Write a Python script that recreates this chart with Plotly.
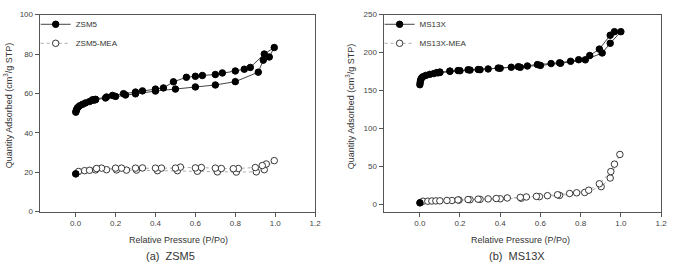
import plotly.graph_objects as go

# ---------------- data ----------------
# (a) ZSM5 - adsorption then desorption branch
zsm5_p = [0.001, 0.003, 0.006, 0.01, 0.02, 0.035, 0.05, 0.07, 0.09, 0.1, 0.15, 0.2, 0.25, 0.3, 0.4, 0.5,
          0.6, 0.7, 0.8, 0.915, 0.94, 0.97, 0.995,
          0.945, 0.875, 0.845, 0.8, 0.735, 0.7, 0.635, 0.6, 0.555, 0.49, 0.44, 0.4, 0.335, 0.3, 0.24,
          0.185, 0.155, 0.1, 0.085]
zsm5_q = [50.5, 51.2, 52.0, 52.8, 53.7, 54.5, 55.2, 55.9, 56.6, 56.8, 57.7, 58.5, 59.2, 59.8, 61.2, 62.2,
          63.3, 64.3, 66.0, 70.8, 76.9, 78.5, 83.3,
          80.0, 73.2, 72.3, 71.4, 70.4, 69.6, 69.1, 68.7, 68.2, 65.9, 62.8, 62.2, 61.3, 60.7, 59.9,
          59.0, 58.2, 57.0, 56.8]

zsm5_mea_p = [0.001, 0.015, 0.045, 0.07, 0.1, 0.155, 0.205, 0.255, 0.305, 0.41, 0.51, 0.61, 0.71, 0.805,
              0.905, 0.945, 0.995,
              0.955, 0.935, 0.9, 0.815, 0.79, 0.73, 0.7, 0.63, 0.6, 0.525, 0.5, 0.43, 0.4, 0.335, 0.3,
              0.23, 0.2, 0.13, 0.105]
zsm5_mea_q = [19.2, 20.4, 20.8, 21.0, 21.2, 21.3, 21.2, 21.1, 21.1, 20.8, 20.8, 20.5, 20.2, 20.1,
              20.2, 21.3, 25.9,
              24.2, 23.4, 22.4, 21.9, 21.8, 21.9, 22.1, 22.4, 22.2, 22.6, 22.1, 22.1, 22.1, 22.2, 22.1,
              22.1, 22.1, 22.1, 21.9]

# (b) MS13X
ms13x_p = [0.0005, 0.002, 0.004, 0.008, 0.015, 0.03, 0.05, 0.07, 0.09, 0.1, 0.15, 0.2, 0.25, 0.3, 0.4,
           0.5, 0.6, 0.7, 0.823, 0.907, 0.947, 1.0,
           0.968, 0.947, 0.893, 0.845, 0.79, 0.75, 0.695, 0.653, 0.585, 0.535, 0.49, 0.455, 0.39, 0.34,
           0.29, 0.24, 0.19, 0.15, 0.1, 0.085]
ms13x_q = [157.5, 160.5, 163.5, 166.0, 168.0, 169.8, 171.2, 172.2, 173.2, 173.6, 175.2, 176.0, 176.8,
           177.4, 179.2, 180.5, 183.0, 185.8, 190.3, 199.4, 212.2, 227.5,
           227.5, 222.8, 204.5, 196.0, 190.5, 188.4, 186.4, 185.4, 184.1, 182.2, 181.3, 180.6, 179.5,
           178.3, 177.6, 177.2, 176.2, 175.5, 174.2, 173.6]

ms13x_mea_p = [0.001, 0.016, 0.04, 0.06, 0.08, 0.1, 0.16, 0.195, 0.25, 0.3, 0.4, 0.505, 0.595, 0.695,
               0.82, 0.902, 0.947, 0.995,
               0.968, 0.95, 0.893, 0.84, 0.78, 0.745, 0.685, 0.635, 0.58, 0.53, 0.5, 0.435, 0.38,
               0.34, 0.29, 0.24, 0.19, 0.135]
ms13x_mea_q = [1.7, 3.8, 3.8, 4.1, 4.2, 4.3, 4.7, 5.3, 5.8, 6.2, 7.0, 7.7, 9.8, 11.5,
               15.3, 23.0, 34.4, 65.5,
               52.7, 42.9, 26.8, 18.3, 14.9, 14.0, 12.3, 11.1, 10.2, 9.4, 8.9, 8.1, 7.4,
               6.8, 6.5, 6.0, 5.5, 4.8]

x_ticks = [0.0, 0.2, 0.4, 0.6, 0.8, 1.0, 1.2]
x_tick_text = ["0.0", "0.2", "0.4", "0.6", "0.8", "1.0", "1.2"]
y_ticks_a = [0, 20, 40, 60, 80, 100]
y_ticks_b = [0, 50, 100, 150, 200, 250]

# ---------------- figure ----------------
FONT = "Liberation Sans, Arial, sans-serif"
AX = "#555555"
MS = 6.5
fig = go.Figure()

def add_pair(px, py, name, open_px, open_py, open_name, xa, ya, leg):
    fig.add_trace(go.Scatter(x=px, y=py, name=name, mode="lines+markers",
                             line=dict(color="#444444", width=1),
                             marker=dict(symbol="circle", size=MS, color="black",
                                         line=dict(color="black", width=1)),
                             xaxis=xa, yaxis=ya, legend=leg))
    fig.add_trace(go.Scatter(x=open_px, y=open_py, name=open_name, mode="lines+markers",
                             line=dict(color="#aaaaaa", width=1, dash="dot"),
                             marker=dict(symbol="circle", size=MS, color="white",
                                         line=dict(color="#222222", width=0.9)),
                             xaxis=xa, yaxis=ya, legend=leg))
    # overlapping first points of the open series look solid in the original
    fig.add_trace(go.Scatter(x=open_px[:1], y=open_py[:1], mode="markers", showlegend=False,
                             marker=dict(symbol="circle", size=MS, color="black",
                                         line=dict(color="black", width=1)),
                             xaxis=xa, yaxis=ya, hoverinfo="skip"))

add_pair(zsm5_p, zsm5_q, "ZSM5", zsm5_mea_p, zsm5_mea_q, "ZSM5-MEA", "x", "y", "legend")
add_pair(ms13x_p, ms13x_q, "MS13X", ms13x_mea_p, ms13x_mea_q, "MS13X-MEA", "x2", "y2", "legend2")

W, H = 678, 264
def px_x(p):
    return p / W
def px_y(p):
    return 1 - p / H

xa = dict(range=[-0.18, 1.2], tickvals=x_ticks, ticktext=x_tick_text, ticks="outside", ticklen=4,
          tickcolor=AX, showline=True, linecolor=AX, linewidth=1, mirror=True, showgrid=False,
          zeroline=False, tickfont=dict(size=8, color="#444444", family=FONT))
ya = dict(ticks="outside", ticklen=4, tickcolor=AX, showline=True, linecolor=AX, linewidth=1,
          mirror=True, showgrid=False, zeroline=False, tickfont=dict(size=8, color="#444444", family=FONT))

leg = dict(xanchor="left", yanchor="top", bgcolor="rgba(0,0,0,0)",
           font=dict(size=8, color="#333333", family=FONT), tracegroupgap=0, itemwidth=30)

fig.update_layout(
    width=W, height=H, margin=dict(l=0, r=0, t=0, b=0),
    paper_bgcolor="white", plot_bgcolor="white",
    font=dict(family=FONT, color="#333333"),
    xaxis=dict(xa, domain=[px_x(40), px_x(318)], anchor="y"),
    yaxis=dict(ya, domain=[px_y(215), px_y(11)], range=[0, 100], tickvals=y_ticks_a, anchor="x"),
    xaxis2=dict(xa, domain=[px_x(387), px_x(667)], anchor="y2"),
    yaxis2=dict(ya, domain=[px_y(215), px_y(11)], range=[-10, 250], tickvals=y_ticks_b, anchor="x2"),
    legend=dict(leg, x=px_x(36), y=px_y(6)),
    legend2=dict(leg, x=px_x(383), y=px_y(6)),
    showlegend=True,
)

ytitle = "Quantity Adsorbed (cm<sup>3</sup>/g STP)"
ann = [
    (ytitle, 9, 105, -90, 9),
    (ytitle, 354, 106, -90, 9),
    ("Relative Pressure (P/Po)", 180, 244, 0, 9),
    ("Relative Pressure (P/Po)", 525, 244, 0, 9),
    ("(a)  ZSM5", 172, 261, 0, 11),
    ("(b)  MS13X", 522, 261, 0, 11),
]
for text, x, y, ang, size in ann:
    fig.add_annotation(xref="paper", yref="paper", showarrow=False, xanchor="center", yanchor="middle",
                       font=dict(family=FONT, color="#333333", size=size),
                       text=text, x=px_x(x), y=px_y(y), textangle=ang)

fig.write_html("out.html")
